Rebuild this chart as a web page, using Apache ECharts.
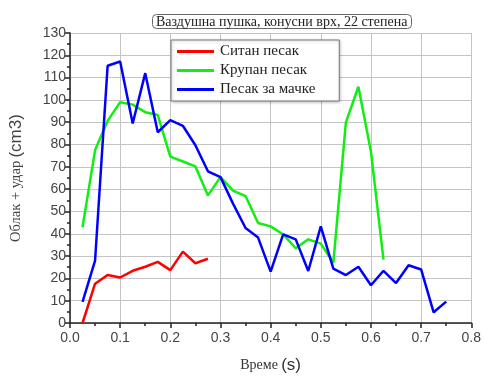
<!DOCTYPE html>
<html>
<head>
<meta charset="utf-8">
<script src="https://cdn.jsdelivr.net/npm/echarts@6/dist/echarts.min.js"></script>
<style>html,body{margin:0;padding:0;background:#fff}#c{width:484px;height:379px}</style>
</head>
<body>
<div id="c"></div>
<script>
var seriesNames = ['Ситан песак', 'Крупан песак', 'Песак за мачке'];
var fineX = [0.025,0.05,0.075,0.1,0.125,0.15,0.175,0.2,0.225,0.25,0.275];
var fineY = [0,17.6,21.5,20.4,23.4,25.2,27.4,23.7,32,26.8,28.8];
var coarseX = [0.025,0.05,0.075,0.1,0.125,0.15,0.175,0.2,0.225,0.25,0.275,0.3,0.325,0.35,0.375,0.4,0.425,0.45,0.475,0.5,0.525,0.55,0.575,0.6,0.625];
var coarseY = [42.9,77.5,90.6,99,97.9,94.5,93.2,74.6,72.4,70.2,57.2,65.4,59.3,56.9,44.8,43.3,39.7,33.5,37.5,35.6,27,89.9,105.9,76.8,28.4];
var catX = [0.025,0.05,0.075,0.1,0.125,0.15,0.175,0.2,0.225,0.25,0.275,0.3,0.325,0.35,0.375,0.4,0.425,0.45,0.475,0.5,0.525,0.55,0.575,0.6,0.625,0.65,0.675,0.7,0.725,0.75];
var catY = [9.5,28,115.3,117.2,89.4,112,85.5,90.9,88.4,79.7,68,65.4,53.5,42.6,38.3,23,39.7,37.5,23.3,43.3,24.4,21.5,25.2,16.9,23.4,17.9,25.9,24,4.8,9.6];
var titleText = 'Ваздушна пушка, конусни врх, 22 степена';
var xName = 'Време';
var yName = 'Облак + удар';

function pairs(xs, ys){ return xs.map(function(x,i){ return [x, ys[i]]; }); }

var chart = echarts.init(document.getElementById('c'), null, {renderer:'canvas'});
var serif = '"Liberation Serif", "DejaVu Serif", serif';
var sans = '"Liberation Sans", Arial, sans-serif';
chart.setOption({
  animation: false,
  title: {
    text: titleText,
    left: 152, top: 14,
    padding: [1, 4, 0, 4],
    borderColor: '#666', borderWidth: 1, borderRadius: 4,
    textStyle: {fontFamily: serif, fontSize: 14, fontWeight: 'normal', color: '#222'}
  },
  legend: {
    orient: 'vertical',
    left: 171, top: 40,
    padding: [4, 24, 4, 6],
    itemGap: 4,
    itemWidth: 37, itemHeight: 3,
    icon: 'rect',
    borderColor: '#777', borderWidth: 1,
    backgroundColor: '#fff',
    shadowColor: 'rgba(0,0,0,0.25)', shadowBlur: 3, shadowOffsetX: 1, shadowOffsetY: 1,
    textStyle: {fontFamily: serif, fontSize: 15, color: '#222', padding: [0,0,0,1]},
    data: seriesNames
  },
  grid: {left: 69, right: 8, top: 33, bottom: 48, containLabel: false},
  xAxis: {
    type: 'value', min: 0, max: 0.8, interval: 0.1,
    name: '{a|' + xName + '} {b|(s)}', nameLocation: 'middle', nameGap: 34,
    nameTextStyle: {rich: {a: {fontFamily: serif, fontSize: 14, color: '#333'}, b: {fontFamily: sans, fontSize: 17, color: '#333'}}},
    axisLine: {lineStyle: {color: '#222', width: 1.5}},
    axisTick: {length: 5, lineStyle: {color: '#222', width: 1.5}},
    minorTick: {show: true, splitNumber: 2, length: 3, lineStyle: {color: '#222', width: 1.5}},
    axisLabel: {margin: 8, fontFamily: sans, fontSize: 14, color: '#444', formatter: function(v){ return v.toFixed(1); }},
    splitLine: {show: true, lineStyle: {color: '#c4c4c4', width: 1}}
  },
  yAxis: {
    type: 'value', min: 0, max: 130, interval: 10,
    name: '{a|' + yName + '} {b|(cm3)}', nameLocation: 'middle', nameGap: 45,
    nameTextStyle: {rich: {a: {fontFamily: serif, fontSize: 14.5, color: '#444'}, b: {fontFamily: sans, fontSize: 17, color: '#444'}}},
    axisLine: {show: true, lineStyle: {color: '#222', width: 1.5}},
    axisTick: {show: true, length: 5, lineStyle: {color: '#222', width: 1.5}},
    minorTick: {show: true, splitNumber: 2, length: 3, lineStyle: {color: '#222', width: 1.5}},
    axisLabel: {margin: 4, fontFamily: sans, fontSize: 14, color: '#444'},
    splitLine: {show: true, lineStyle: {color: '#c4c4c4', width: 1}}
  },
  series: [
    {name: seriesNames[0], type: 'line', data: pairs(fineX, fineY), showSymbol: false, symbol: 'none', color: '#ff0000', lineStyle: {width: 2.5}},
    {name: seriesNames[1], type: 'line', data: pairs(coarseX, coarseY), showSymbol: false, symbol: 'none', color: '#11ee11', lineStyle: {width: 2.5}},
    {name: seriesNames[2], type: 'line', data: pairs(catX, catY), showSymbol: false, symbol: 'none', color: '#0000ff', lineStyle: {width: 2.5}}
  ]
});
</script>
</body>
</html>
